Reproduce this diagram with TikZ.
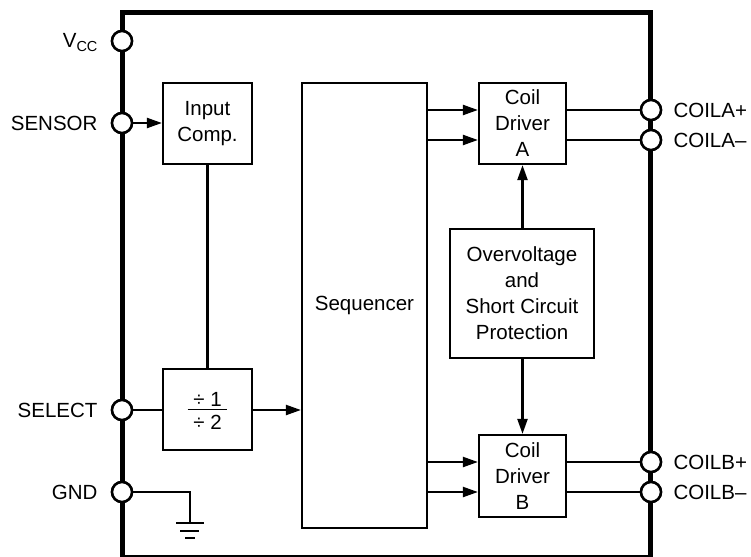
\documentclass[tikz,border=0pt]{standalone}
\usepackage{fontspec}
\setmainfont{Liberation Sans}
\usetikzlibrary{arrows.meta}
\begin{document}
\begin{tikzpicture}[x=1pt,y=-1pt,
  every node/.style={font=\fontsize{20.5}{26}\selectfont},
  blk/.style={draw,line width=2.2pt,inner sep=0pt,align=center},
  wire/.style={line width=2.2pt},
  arr/.style={line width=2.2pt,-{Triangle[length=15pt,width=10pt]}},
  pin/.style={circle,draw,fill=white,line width=2.5pt,minimum size=20pt,inner sep=0pt},
  chip/.style={line width=5pt}
]
\useasboundingbox (0,0) rectangle (751,556);
% chip outline
\draw[chip] (122,12.5) rectangle (650,557.8);
% blocks
\node[blk,minimum width=89pt,minimum height=81pt] (inp) at (207.5,123.5) {Input\\Comp.};
\node[blk,minimum width=89pt,minimum height=81pt] (div) at (207.5,409.5) {};
\node (d1) at (207.5,399) {÷ 1};
\node (d2) at (207.5,422) {÷ 2};
\draw[line width=1.5pt] ([xshift=-20pt]div.center) -- ([xshift=19pt]div.center);
\node[blk,minimum width=125pt,minimum height=445pt] (seq) at (364.5,305.5) {Sequencer};
\node[blk,minimum width=87pt,minimum height=81pt] (dA) at (522.5,123.5) {Coil\\Driver\\A};
\node[blk,minimum width=87pt,minimum height=82pt] (dB) at (522.5,476) {Coil\\Driver\\B};
\node[blk,minimum width=144pt,minimum height=129pt] (ov) at (522,293.5) {Overvoltage\\and\\Short Circuit\\Protection};
% pins left
\node[pin] (vcc) at (122,41) {};
\node[pin] (sen) at (122,123) {};
\node[pin] (sel) at (122,410) {};
\node[pin] (gnd) at (122,492) {};
\node[anchor=east] (lvcc) at (101,43) {V\raisebox{-4pt}{\fontsize{14.5}{14.5}\selectfont CC}};
\node[anchor=east] (lsen) at (101,123) {SENSOR};
\node[anchor=east] (lsel) at (101,410) {SELECT};
\node[anchor=east] (lgnd) at (101,492) {GND};
% pins right
\node[pin] (ap) at (651,110) {};
\node[pin] (am) at (651,140) {};
\node[pin] (bp) at (651,462) {};
\node[pin] (bm) at (651,492) {};
\node[anchor=west] (lap) at (670,110) {COILA+};
\node[anchor=west] (lam) at (670,140) {COILA–};
\node[anchor=west] (lbp) at (670,462) {COILB+};
\node[anchor=west] (lbm) at (670,492) {COILB–};
% connections
\draw[arr] (sen) -- (inp.west |- sen);
\draw[wire] (inp.south) -- (div.north);
\draw[wire] (sel) -- (div.west |- sel);
\draw[arr] (div.east |- sel) -- (seq.west |- sel);
\draw[arr] (seq.east |- ap) -- (dA.west |- ap);
\draw[arr] (seq.east |- am) -- (dA.west |- am);
\draw[arr] (seq.east |- bp) -- (dB.west |- bp);
\draw[arr] (seq.east |- bm) -- (dB.west |- bm);
\draw[wire] (dA.east |- ap) -- (ap);
\draw[wire] (dA.east |- am) -- (am);
\draw[wire] (dB.east |- bp) -- (bp);
\draw[wire] (dB.east |- bm) -- (bm);
\draw[arr] (ov.north -| dA.south) -- (dA.south);
\draw[arr] (ov.south -| dB.north) -- (dB.north);
% ground
\coordinate (g) at (190,523);
\draw[wire] (gnd) -| (g);
\draw[wire] ([xshift=-14pt]g) -- ([xshift=14pt]g);
\draw[wire] ([xshift=-10pt,yshift=-8pt]g) -- ([xshift=9pt,yshift=-8pt]g);
\draw[wire] ([xshift=-5pt,yshift=-15pt]g) -- ([xshift=5pt,yshift=-15pt]g);
% redraw pins on top
\foreach \p in {vcc,sen,sel,gnd,ap,am,bp,bm}{\node[pin] at (\p) {};}
\end{tikzpicture}
\end{document}
